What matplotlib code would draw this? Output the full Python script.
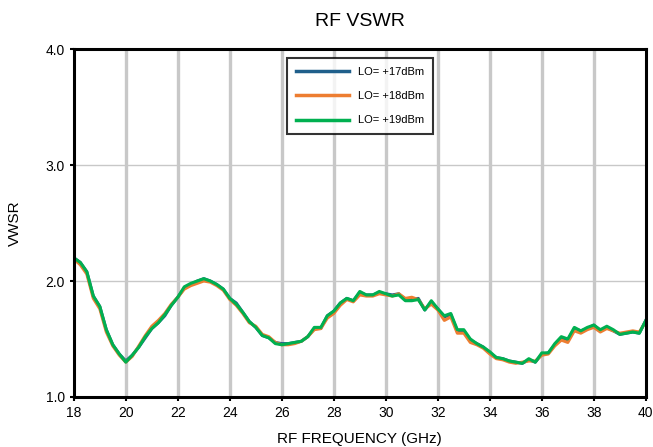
import matplotlib
matplotlib.use("Agg")
import matplotlib.pyplot as plt

# RF frequency points, 0.25 GHz steps from 18 to 40 GHz
freq = [18 + 0.25 * i for i in range(89)]

vswr_17 = [2.20, 2.16, 2.08, 1.87, 1.78, 1.58, 1.45, 1.37, 1.31, 1.36,
           1.43, 1.51, 1.59, 1.64, 1.70, 1.79, 1.86, 1.94, 1.97, 2.00,
           2.02, 2.00, 1.97, 1.93, 1.85, 1.81, 1.73, 1.65, 1.60, 1.53,
           1.51, 1.47, 1.46, 1.46, 1.47, 1.48, 1.52, 1.59, 1.59, 1.70,
           1.74, 1.81, 1.85, 1.83, 1.90, 1.88, 1.88, 1.90, 1.89, 1.88,
           1.89, 1.84, 1.84, 1.85, 1.75, 1.82, 1.76, 1.69, 1.71, 1.57,
           1.57, 1.49, 1.46, 1.43, 1.38, 1.34, 1.33, 1.31, 1.30, 1.29,
           1.32, 1.30, 1.37, 1.38, 1.45, 1.51, 1.49, 1.59, 1.57, 1.59,
           1.62, 1.57, 1.60, 1.57, 1.54, 1.55, 1.56, 1.55, 1.66]

vswr_18 = [2.19, 2.14, 2.06, 1.85, 1.76, 1.56, 1.44, 1.36, 1.30, 1.35,
           1.44, 1.53, 1.61, 1.66, 1.72, 1.80, 1.86, 1.93, 1.96, 1.98,
           2.00, 1.99, 1.96, 1.92, 1.84, 1.79, 1.72, 1.64, 1.61, 1.54,
           1.52, 1.47, 1.45, 1.45, 1.46, 1.48, 1.52, 1.58, 1.59, 1.68,
           1.72, 1.79, 1.84, 1.82, 1.88, 1.87, 1.87, 1.89, 1.88, 1.87,
           1.89, 1.85, 1.86, 1.84, 1.76, 1.80, 1.75, 1.66, 1.69, 1.55,
           1.55, 1.47, 1.45, 1.42, 1.37, 1.33, 1.32, 1.30, 1.29, 1.30,
           1.31, 1.31, 1.36, 1.37, 1.44, 1.49, 1.47, 1.57, 1.55, 1.58,
           1.60, 1.56, 1.59, 1.57, 1.55, 1.56, 1.57, 1.56, 1.65]

vswr_19 = [2.20, 2.16, 2.08, 1.87, 1.78, 1.58, 1.45, 1.37, 1.30, 1.36,
           1.43, 1.52, 1.59, 1.64, 1.71, 1.79, 1.86, 1.95, 1.98, 2.00,
           2.02, 2.00, 1.97, 1.93, 1.85, 1.80, 1.73, 1.65, 1.60, 1.53,
           1.51, 1.46, 1.45, 1.46, 1.47, 1.48, 1.52, 1.60, 1.60, 1.70,
           1.74, 1.81, 1.85, 1.83, 1.91, 1.88, 1.88, 1.91, 1.89, 1.87,
           1.88, 1.83, 1.83, 1.84, 1.75, 1.83, 1.76, 1.70, 1.72, 1.58,
           1.58, 1.50, 1.46, 1.43, 1.39, 1.34, 1.33, 1.31, 1.30, 1.29,
           1.33, 1.30, 1.38, 1.38, 1.46, 1.52, 1.50, 1.60, 1.57, 1.60,
           1.62, 1.58, 1.61, 1.58, 1.54, 1.55, 1.56, 1.55, 1.66]

labels = ["LO= +17dBm", "LO= +18dBm", "LO= +19dBm"]
colors = ["#1f5f8b", "#ed7d31", "#00b050"]

xticks = list(range(18, 41, 2))
yticks = [1.0, 2.0, 3.0, 4.0]

plt.rcParams["font.family"] = ["Liberation Sans", "DejaVu Sans"]

fig = plt.figure(figsize=(6.53, 4.47), dpi=100)
ax = fig.add_axes([0.113, 0.112, 0.876, 0.778])

for y, lab, c in zip([vswr_17, vswr_18, vswr_19], labels, colors):
    ax.plot(freq, y, color=c, linewidth=2.2, label=lab)

ax.set_xlim(18, 40)
ax.set_ylim(1.0, 4.0)
ax.set_xticks(xticks)
ax.set_yticks(yticks)
ax.set_yticklabels([f"{v:.1f}" for v in yticks])
ax.tick_params(labelsize=10, length=3, width=1.5, direction="out")

# vertical grid heavy, horizontal light
for xv in xticks[1:-1]:
    ax.axvline(xv, color="#c8c8c8", linewidth=2.4, zorder=0)
for yv in yticks[1:-1]:
    ax.axhline(yv, color="#c8c8c8", linewidth=1.0, zorder=0)

for s in ax.spines.values():
    s.set_linewidth(2.2)
    s.set_color("black")

ax.set_title("RF VSWR", fontsize=14, pad=17)
ax.set_xlabel("RF FREQUENCY (GHz)", fontsize=11, labelpad=9)
ax.set_ylabel("VWSR", fontsize=11, labelpad=17)

leg = ax.legend(loc="upper center", bbox_to_anchor=(0.5, 0.985),
                fontsize=8, frameon=True, fancybox=False,
                handlelength=4.8, labelspacing=1.3, borderpad=0.8,
                handletextpad=0.8, borderaxespad=0.3)
leg.get_frame().set_edgecolor("black")
leg.get_frame().set_linewidth(1.5)
for line in leg.get_lines():
    line.set_linewidth(2.5)

fig.savefig("out.png", dpi=100)
